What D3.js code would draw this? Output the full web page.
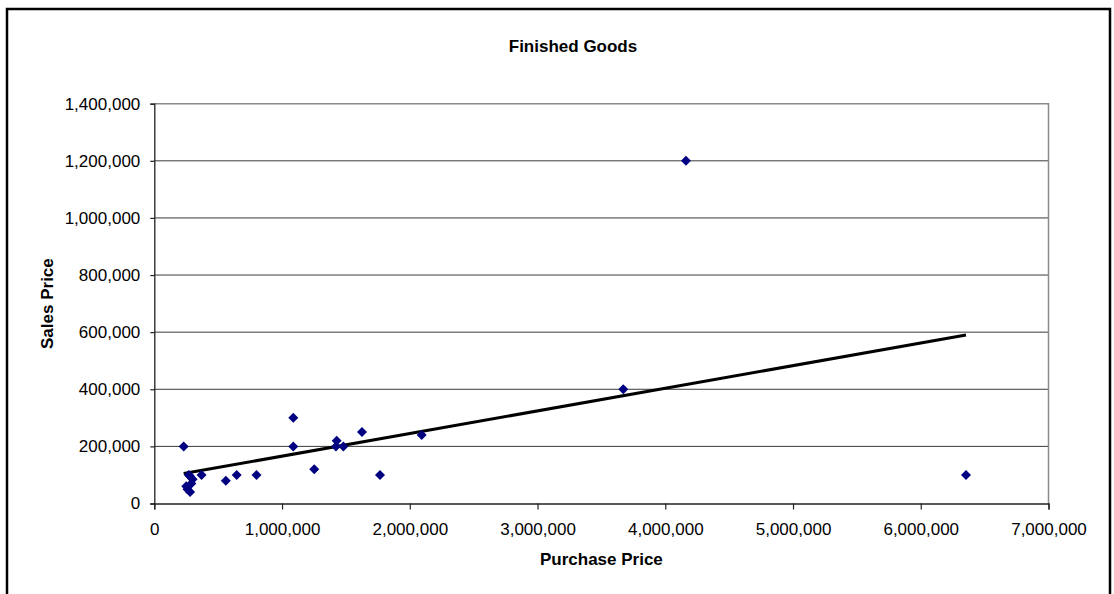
<!DOCTYPE html>
<html>
<head>
<meta charset="utf-8">
<script src="https://cdn.jsdelivr.net/npm/d3@7"></script>
<style>
  body { margin: 0; background: #fff; }
  text { font-family: "Liberation Sans", Arial, sans-serif; }
</style>
</head>
<body>
<div id="chart"></div>
<script>
// Finished Goods: purchase price vs sales price, with a linear trendline

// purchase price (x) and sales price (y) of each item
let purchasePrice = [230000, 270000, 250000, 260000, 280000, 290000, 300000, 280000, 370000,
  560000, 645000, 800000, 1088000, 1088000, 1252000, 1428000, 1422000, 1480000,
  1626000, 1767000, 2093000, 3671000, 4162000, 6354000];
let salesPrice = [200000, 100000, 60000, 50000, 40000, 70000, 85000, 95000, 100000,
  80000, 100000, 100000, 300000, 200000, 120000, 220000, 200000, 200000,
  250000, 100000, 240000, 400000, 1200000, 100000];

let xTicks = [0, 1000000, 2000000, 3000000, 4000000, 5000000, 6000000, 7000000];
let yTicks = [0, 200000, 400000, 600000, 800000, 1000000, 1200000, 1400000];

let data = purchasePrice.map((x, i) => ({ x: x, y: salesPrice[i] }));

////////////////////////////////////////////////////////////////////////
// SVG setup

let width = 1114, height = 594;
let plot = { left: 154.3, right: 1048.5, top: 103.7, bottom: 503.5 };

let svg = d3.select("#chart")
  .append("svg")
  .attr("width", width).attr("height", height);

// outer chart frame
svg.append("rect")
  .attr("x", 7).attr("y", 9)
  .attr("width", 1103).attr("height", 640)
  .style("fill", "none")
  .style("stroke", "#000")
  .style("stroke-width", 2.5);

let xScale = d3.scaleLinear().domain([0, 7000000]).range([plot.left, plot.right]);
let yScale = d3.scaleLinear().domain([0, 1400000]).range([plot.bottom, plot.top]);

let fmt = d3.format(",");

////////////////////////////////////////////////////////////////////////
// Gridlines and plot border

svg.append("g")
  .selectAll("line")
  .data(yTicks.slice(1, -1))
  .enter().append("line")
  .attr("x1", plot.left).attr("x2", plot.right)
  .attr("y1", d => yScale(d)).attr("y2", d => yScale(d))
  .style("stroke", "#3a3a3a")
  .style("stroke-width", 1);

svg.append("path")
  .attr("d", `M${plot.left},${plot.top}H${plot.right}V${plot.bottom}`)
  .style("fill", "none")
  .style("stroke", "#8a8a8a")
  .style("stroke-width", 1.5);

////////////////////////////////////////////////////////////////////////
// Axes

let xAxis = d3.axisBottom(xScale).tickValues(xTicks).tickFormat(fmt).tickSize(6).tickPadding(13);
let yAxis = d3.axisLeft(yScale).tickValues(yTicks).tickFormat(fmt).tickSize(4).tickPadding(10);

let gx = svg.append("g")
  .attr("transform", `translate(0,${plot.bottom})`)
  .call(xAxis);
let gy = svg.append("g")
  .attr("transform", `translate(${plot.left},0)`)
  .call(yAxis);

[gx, gy].forEach(g => {
  g.select(".domain").style("stroke", "#222").style("stroke-width", 1.3);
  g.selectAll(".tick line").style("stroke", "#222").style("stroke-width", 1.2);
  g.selectAll(".tick text")
    .style("font-family", "'Liberation Sans', Arial, sans-serif")
    .style("font-size", "17px")
    .style("fill", "#000");
});

////////////////////////////////////////////////////////////////////////
// Trendline (least squares fit over the data's x range)

let mx = d3.mean(data, d => d.x), my = d3.mean(data, d => d.y);
let sxy = d3.sum(data, d => (d.x - mx) * (d.y - my));
let sxx = d3.sum(data, d => (d.x - mx) * (d.x - mx));
let slope = sxy / sxx, intercept = my - slope * mx;
let xExt = d3.extent(data, d => d.x);

svg.append("path")
  .datum(xExt.map(x => [x, intercept + slope * x]))
  .attr("d", d3.line().x(d => xScale(d[0])).y(d => yScale(d[1])))
  .style("fill", "none")
  .style("stroke", "#000")
  .style("stroke-width", 3);

////////////////////////////////////////////////////////////////////////
// Points (diamonds)

svg.append("g")
  .selectAll("path")
  .data(data)
  .enter().append("path")
  .attr("d", d3.symbol().type(d3.symbolSquare).size(50))
  .attr("transform", d => `translate(${xScale(d.x)},${yScale(d.y)}) rotate(45)`)
  .style("fill", "#000080");

////////////////////////////////////////////////////////////////////////
// Titles

svg.append("text")
  .attr("x", 573).attr("y", 52)
  .attr("text-anchor", "middle")
  .style("font-size", "17px")
  .style("font-weight", "bold")
  .text("Finished Goods");

svg.append("text")
  .attr("x", (plot.left + plot.right) / 2).attr("y", 565)
  .attr("text-anchor", "middle")
  .style("font-size", "17px")
  .style("font-weight", "bold")
  .text("Purchase Price");

svg.append("text")
  .attr("transform", `translate(52.5,${(plot.top + plot.bottom) / 2}) rotate(-90)`)
  .attr("text-anchor", "middle")
  .style("font-size", "17px")
  .style("font-weight", "bold")
  .text("Sales Price");
</script>
</body>
</html>
